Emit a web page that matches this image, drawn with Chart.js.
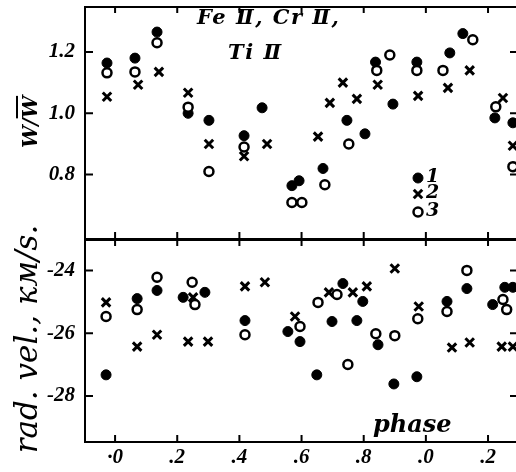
<!DOCTYPE html>
<html>
<head>
<meta charset="utf-8">
<script src="https://cdn.jsdelivr.net/npm/chart.js@4.4.1/dist/chart.umd.min.js"></script>
<style>
  body { margin: 0; background: #fff; }
  #wrap { position: relative; width: 516px; height: 472px; overflow: hidden; }
  canvas { position: absolute; left: 0; }
  .lbl { position: absolute; font-family: "DejaVu Serif"; font-weight: bold; font-style: italic; color: #000; white-space: nowrap; }
  .rot { transform: translate(-50%, -50%) rotate(-90deg); }
</style>
</head>
<body>
<div id="wrap">
  <canvas id="top" width="516" height="239" style="top:0"></canvas>
  <canvas id="bot" width="516" height="233" style="top:239px"></canvas>
  <div class="lbl" style="left:197px; top:4px; font-size:21px; letter-spacing:1.5px;">Fe Ⅱ, Cr Ⅱ,</div>
  <div class="lbl" style="left:228px; top:39px; font-size:21px; letter-spacing:1.5px;">Ti Ⅱ</div>
  <div class="lbl rot" style="left:30px; top:122px; font-size:20px;">W/<span style="text-decoration:overline">W</span></div>
  <div class="lbl rot" style="left:26px; top:339px; font-size:31px; font-weight:normal;">rad. vel., км/s.</div>
  <div class="lbl" style="left:373px; top:409px; font-size:24px;">phase</div>
</div>
<script>
// фаза и значения, верхняя панель (W / W среднее)
const wPhase1 = [-0.026, 0.064, 0.135, 0.235, 0.302, 0.415, 0.473, 0.569, 0.592, 0.669, 0.746, 0.804, 0.838, 0.894, 0.971, 1.077, 1.119, 1.222, 1.280];
const wValue1 = [1.164, 1.180, 1.265, 1.000, 0.977, 0.927, 1.018, 0.764, 0.780, 0.820, 0.977, 0.933, 1.167, 1.030, 1.167, 1.197, 1.260, 0.985, 0.969];
const wPhase2 = [-0.026, 0.074, 0.141, 0.235, 0.302, 0.415, 0.489, 0.653, 0.691, 0.733, 0.778, 0.845, 0.975, 1.071, 1.141, 1.248, 1.280];
const wValue2 = [1.054, 1.093, 1.135, 1.067, 0.900, 0.860, 0.900, 0.924, 1.034, 1.100, 1.047, 1.093, 1.057, 1.083, 1.140, 1.050, 0.894];
const wPhase3 = [-0.026, 0.064, 0.135, 0.235, 0.302, 0.415, 0.569, 0.601, 0.675, 0.752, 0.842, 0.884, 0.971, 1.055, 1.151, 1.225, 1.280];
const wValue3 = [1.132, 1.135, 1.230, 1.020, 0.810, 0.890, 0.709, 0.709, 0.767, 0.900, 1.140, 1.190, 1.140, 1.140, 1.240, 1.021, 0.826];

// нижняя панель (лучевая скорость, км/с)
const vPhase1 = [-0.029, 0.071, 0.135, 0.219, 0.289, 0.418, 0.556, 0.595, 0.649, 0.698, 0.733, 0.778, 0.797, 0.846, 0.897, 0.971, 1.068, 1.132, 1.215, 1.254, 1.280];
const vValue1 = [-27.33, -24.90, -24.64, -24.86, -24.70, -25.60, -25.95, -26.27, -27.33, -25.63, -24.42, -25.60, -24.99, -26.37, -27.62, -27.39, -24.99, -24.58, -25.09, -24.54, -24.54];
const vPhase2 = [-0.029, 0.071, 0.135, 0.251, 0.235, 0.299, 0.418, 0.482, 0.579, 0.688, 0.765, 0.810, 0.900, 0.977, 1.084, 1.141, 1.244, 1.280];
const vValue2 = [-25.02, -26.43, -26.05, -24.86, -26.27, -26.27, -24.51, -24.38, -25.47, -24.70, -24.70, -24.51, -23.94, -25.15, -26.46, -26.30, -26.43, -26.43];
const vPhase3 = [-0.029, 0.071, 0.135, 0.248, 0.257, 0.418, 0.595, 0.653, 0.714, 0.749, 0.839, 0.900, 0.974, 1.068, 1.132, 1.248, 1.260];
const vValue3 = [-25.47, -25.25, -24.22, -24.38, -25.09, -26.05, -25.79, -25.02, -24.77, -27.00, -26.02, -26.08, -25.54, -25.31, -24.00, -24.93, -25.25];

const xTickValues = [0, 0.2, 0.4, 0.6, 0.8, 1.0, 1.2];
const xTickLabels = ['·0', '.2', '.4', '.6', '.8', '.0', '.2'];
const wTickValues = [0.8, 1.0, 1.2];
const wTickLabels = ['0.8', '1.0', '1.2'];
const vTickValues = [-28, -26, -24];
const vTickLabels = ['-28', '-26', '-24'];
const legendLabels = ['1', '2', '3'];

const tickFont = { family: 'Liberation Serif', size: 21, weight: 'bold', style: 'italic' };

const estilos = [
    { pointStyle: 'circle', pointRadius: 5, backgroundColor: '#000', borderColor: '#000', borderWidth: 1 },
    { pointStyle: 'crossRot', pointRadius: 6, backgroundColor: '#000', borderColor: '#000', borderWidth: 3 },
    { pointStyle: 'circle', pointRadius: 4.5, backgroundColor: '#fff', borderColor: '#000', borderWidth: 2.5 }
];

function puntos(xs, ys) {
    return xs.map((x, i) => ({ x: x, y: ys[i] }));
}

// рамка и внутренние засечки
const marcoPlugin = {
    id: 'marco',
    afterDraw(chart, args, opts) {
        const ctx = chart.ctx;
        const a = chart.chartArea;
        const xs = chart.scales.x, ys = chart.scales.y;
        ctx.save();
        ctx.strokeStyle = '#000';
        ctx.lineWidth = 2;
        ctx.strokeRect(a.left + 1, a.top + 1, a.right - a.left + 2, a.bottom - a.top - 1);
        ctx.beginPath();
        xTickValues.forEach(v => {
            const px = xs.getPixelForValue(v);
            ctx.moveTo(px, a.top); ctx.lineTo(px, a.top + 7);
            ctx.moveTo(px, a.bottom); ctx.lineTo(px, a.bottom - 7);
        });
        opts.yTicks.forEach(v => {
            const py = ys.getPixelForValue(v);
            ctx.moveTo(a.left, py); ctx.lineTo(a.left + 9, py);
            ctx.moveTo(a.right, py); ctx.lineTo(a.right - 6, py);
        });
        ctx.stroke();
        ctx.restore();
    }
};

// условные обозначения 1, 2, 3
const leyendaPlugin = {
    id: 'leyenda',
    afterDraw(chart, args, opts) {
        if (!opts.show) return;
        const ctx = chart.ctx;
        const pos = [[418, 178], [418, 194], [418, 212]];
        ctx.save();
        estilos.forEach((e, i) => {
            ctx.fillStyle = e.backgroundColor;
            ctx.strokeStyle = e.borderColor;
            ctx.lineWidth = e.borderWidth;
            Chart.helpers.drawPoint(ctx, { pointStyle: e.pointStyle, radius: e.pointRadius, rotation: 0, borderWidth: e.borderWidth }, pos[i][0], pos[i][1]);
            ctx.fillStyle = '#000';
            ctx.font = 'italic bold 19px "DejaVu Serif"';
            ctx.textBaseline = 'middle';
            ctx.fillText(legendLabels[i], pos[i][0] + 8, pos[i][1] - 1);
        });
        ctx.restore();
    }
};

function generarPanel(idCanvas, series, yMin, yMax, yTicks, yLabels, conEjeX, padTop) {
    const ctx = document.getElementById(idCanvas).getContext('2d');
    return new Chart(ctx, {
        type: 'scatter',
        data: {
            datasets: series.map((s, i) => Object.assign({ data: s, order: i === 2 ? 0 : 1 }, estilos[i]))
        },
        options: {
            responsive: false,
            animation: false,
            devicePixelRatio: 1,
            layout: { padding: { top: padTop, right: 0, bottom: 0, left: 0 }, autoPadding: false },
            scales: {
                x: {
                    type: 'linear', min: -0.1, max: 1.29,
                    display: conEjeX,
                    afterBuildTicks: s => { s.ticks = xTickValues.map(v => ({ value: v })); },
                    afterFit: s => {
                        s.height = conEjeX ? 30 : 0;
                        s.paddingLeft = 0; s.paddingRight = 0;
                    },
                    grid: { display: false, drawTicks: false },
                    border: { display: false },
                    ticks: { font: tickFont, color: '#000', padding: 3, maxRotation: 0, callback: (v, i) => xTickLabels[i] }
                },
                y: {
                    type: 'linear', min: yMin, max: yMax,
                    afterBuildTicks: s => { s.ticks = yTicks.map(v => ({ value: v })); },
                    afterFit: s => {
                        s.width = 84;
                        s.paddingTop = 0; s.paddingBottom = 0;
                    },
                    grid: { display: false, drawTicks: false },
                    border: { display: false },
                    ticks: { font: tickFont, color: '#000', padding: 9, callback: (v, i) => yLabels[i] }
                }
            },
            plugins: {
                legend: { display: false },
                tooltip: { enabled: false },
                marco: { yTicks: yTicks },
                leyenda: { show: idCanvas === 'top' }
            }
        },
        plugins: [marcoPlugin, leyendaPlugin]
    });
}

generarPanel('top', [puntos(wPhase1, wValue1), puntos(wPhase2, wValue2), puntos(wPhase3, wValue3)],
    0.59, 1.35, wTickValues, wTickLabels, false, 6);
generarPanel('bot', [puntos(vPhase1, vValue1), puntos(vPhase2, vValue2), puntos(vPhase3, vValue3)],
    -29.47, -23, vTickValues, vTickLabels, true, 0);
</script>
</body>
</html>
